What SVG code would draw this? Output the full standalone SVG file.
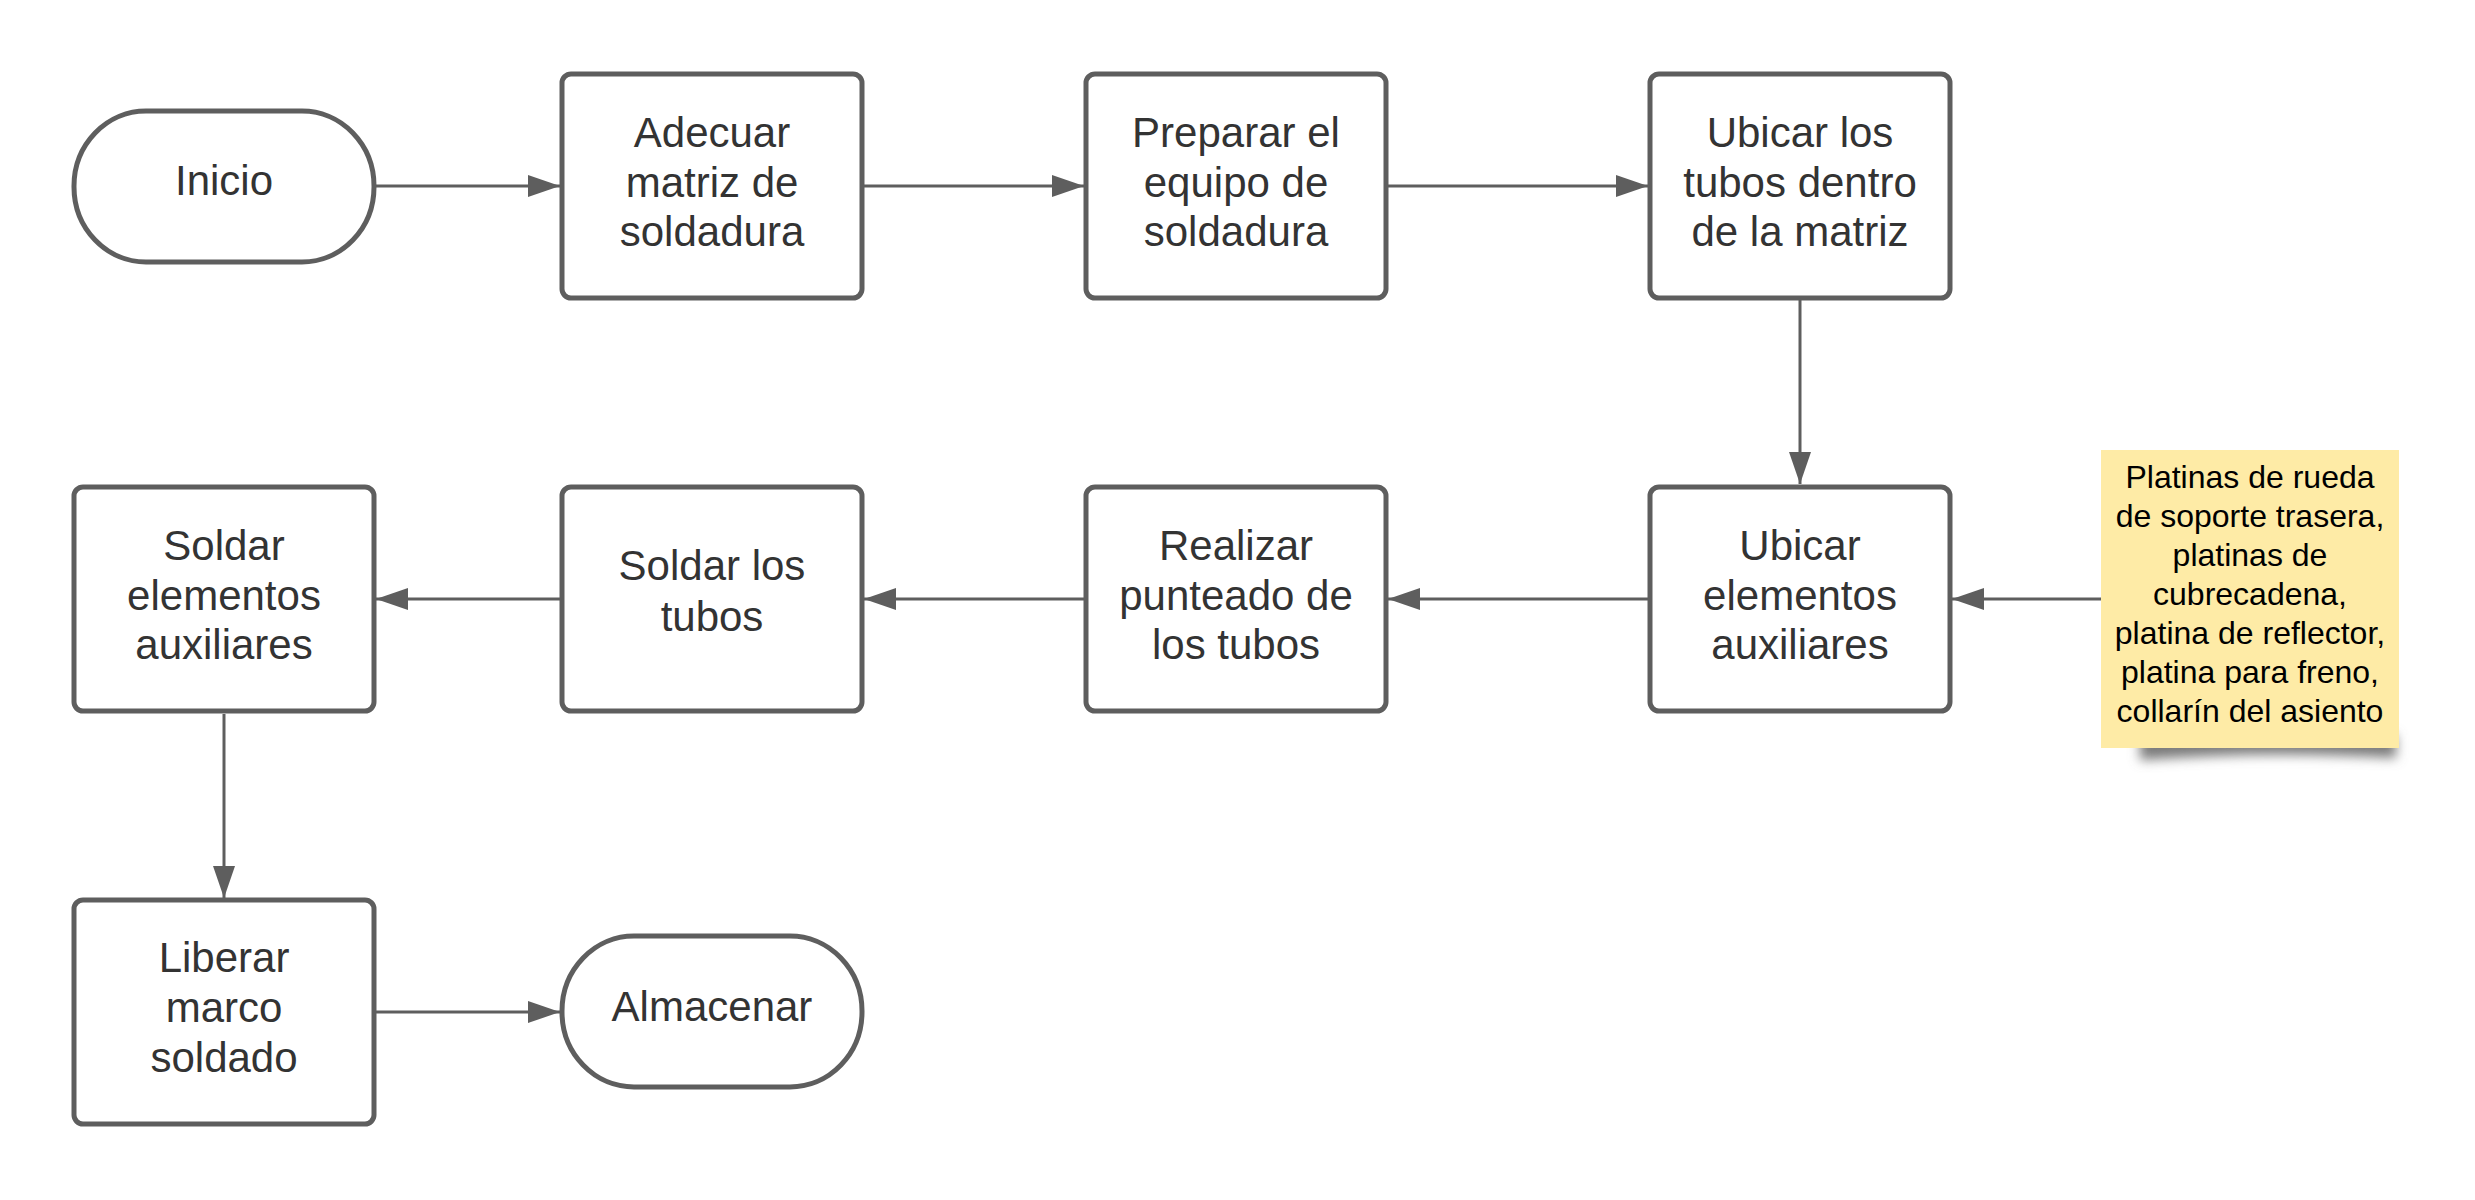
<svg xmlns="http://www.w3.org/2000/svg" width="2475" height="1200" viewBox="0 0 2475 1200">
<style>
.n{fill:#ffffff;stroke:#5e5e5e;stroke-width:5}
.t{font-family:"Liberation Sans",Arial,sans-serif;font-size:42px;fill:#333333;text-anchor:middle}
.s{font-family:"Liberation Sans",Arial,sans-serif;font-size:32px;fill:#000000;text-anchor:middle}
.c{fill:none;stroke:#5e5e5e;stroke-width:3}
</style>
<defs>
<marker id="ah" markerUnits="userSpaceOnUse" markerWidth="34" markerHeight="24" refX="32" refY="11" orient="auto">
<path d="M0,0 L32,11 L0,22 Z" fill="#5e5e5e"/>
</marker>
<filter id="sh" x="-20%" y="-100%" width="140%" height="300%">
<feGaussianBlur stdDeviation="6"/>
</filter>
</defs>
<rect width="2475" height="1200" fill="#ffffff"/>
<g id="connectors">
<line class="c" x1="376" y1="186" x2="560" y2="186" marker-end="url(#ah)"/>
<line class="c" x1="864" y1="186" x2="1084" y2="186" marker-end="url(#ah)"/>
<line class="c" x1="1388" y1="186" x2="1648" y2="186" marker-end="url(#ah)"/>
<line class="c" x1="1800" y1="300" x2="1800" y2="484" marker-end="url(#ah)"/>
<line class="c" x1="2101" y1="599" x2="1952" y2="599" marker-end="url(#ah)"/>
<line class="c" x1="1648" y1="599" x2="1388" y2="599" marker-end="url(#ah)"/>
<line class="c" x1="1084" y1="599" x2="864" y2="599" marker-end="url(#ah)"/>
<line class="c" x1="560" y1="599" x2="376" y2="599" marker-end="url(#ah)"/>
<line class="c" x1="224" y1="714" x2="224" y2="898" marker-end="url(#ah)"/>
<line class="c" x1="376" y1="1012" x2="560" y2="1012" marker-end="url(#ah)"/>
</g>
<g id="inicio">
<rect class="n" x="74" y="111" width="300" height="151" rx="72" ry="75"/>
<text class="t" x="224" y="195">Inicio</text>
</g>
<g id="adecuar">
<rect class="n" x="562" y="74" width="300" height="224" rx="9"/>
<text class="t" x="712" y="147">Adecuar</text>
<text class="t" x="712" y="197">matriz de</text>
<text class="t" x="712" y="246">soldadura</text>
</g>
<g id="preparar">
<rect class="n" x="1086" y="74" width="300" height="224" rx="9"/>
<text class="t" x="1236" y="147">Preparar el</text>
<text class="t" x="1236" y="197">equipo de</text>
<text class="t" x="1236" y="246">soldadura</text>
</g>
<g id="ubicar-tubos">
<rect class="n" x="1650" y="74" width="300" height="224" rx="9"/>
<text class="t" x="1800" y="147">Ubicar los</text>
<text class="t" x="1800" y="197">tubos dentro</text>
<text class="t" x="1800" y="246">de la matriz</text>
</g>
<g id="ubicar-elementos">
<rect class="n" x="1650" y="487" width="300" height="224" rx="9"/>
<text class="t" x="1800" y="560">Ubicar</text>
<text class="t" x="1800" y="610">elementos</text>
<text class="t" x="1800" y="659">auxiliares</text>
</g>
<g id="realizar">
<rect class="n" x="1086" y="487" width="300" height="224" rx="9"/>
<text class="t" x="1236" y="560">Realizar</text>
<text class="t" x="1236" y="610">punteado de</text>
<text class="t" x="1236" y="659">los tubos</text>
</g>
<g id="soldar-tubos">
<rect class="n" x="562" y="487" width="300" height="224" rx="9"/>
<text class="t" x="712" y="580">Soldar los</text>
<text class="t" x="712" y="631">tubos</text>
</g>
<g id="soldar-elementos">
<rect class="n" x="74" y="487" width="300" height="224" rx="9"/>
<text class="t" x="224" y="560">Soldar</text>
<text class="t" x="224" y="610">elementos</text>
<text class="t" x="224" y="659">auxiliares</text>
</g>
<g id="liberar">
<rect class="n" x="74" y="900" width="300" height="224" rx="9"/>
<text class="t" x="224" y="972">Liberar</text>
<text class="t" x="224" y="1022">marco</text>
<text class="t" x="224" y="1072">soldado</text>
</g>
<g id="almacenar">
<rect class="n" x="562" y="936" width="300" height="151" rx="72" ry="75"/>
<text class="t" x="712" y="1021">Almacenar</text>
</g>
<g id="nota">
<path d="M2140,735 L2396,735 L2396,758 Q2270,750 2140,760 Z" fill="#7a7a7a" filter="url(#sh)"/>
<rect x="2101" y="450" width="298" height="298" fill="#feeba6"/>
<text class="s" x="2250" y="488">Platinas de rueda</text>
<text class="s" x="2250" y="527">de soporte trasera,</text>
<text class="s" x="2250" y="566">platinas de</text>
<text class="s" x="2250" y="605">cubrecadena,</text>
<text class="s" x="2250" y="644">platina de reflector,</text>
<text class="s" x="2250" y="683">platina para freno,</text>
<text class="s" x="2250" y="722">collarín del asiento</text>
</g>
</svg>
